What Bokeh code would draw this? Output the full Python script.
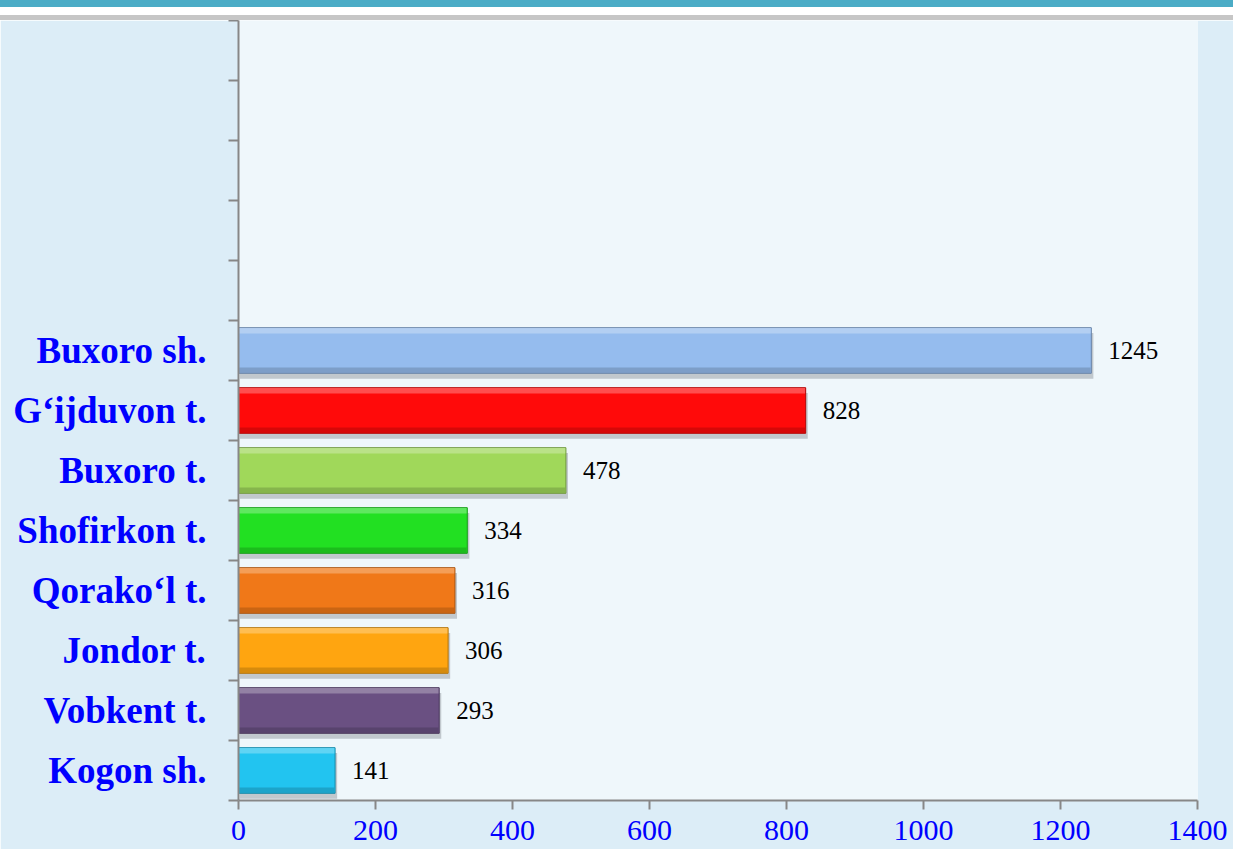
from bokeh.plotting import figure
from bokeh.models import Range1d, FixedTicker, Div
from bokeh.layouts import column
from bokeh.core.properties import value
from bokeh.embed import file_html
from bokeh.resources import INLINE

# ---- data ----
regions = ["Buxoro sh.", "G\u2018ijduvon t.", "Buxoro t.", "Shofirkon t.",
           "Qorako\u2018l t.", "Jondor t.", "Vobkent t.", "Kogon sh."]
values = [1245, 828, 478, 334, 316, 306, 293, 141]
colors = ["#95BCEE", "#FF0A0A", "#A0D85A", "#22E022",
          "#F07818", "#FFA510", "#6A5082", "#22C4F0"]
n_slots = 13
x_ticks = [0, 200, 400, 600, 800, 1000, 1200, 1400]
x_max = 1400


def shade(hexc, f):
    hexc = hexc.lstrip("#")
    r, g, b = (int(hexc[i:i + 2], 16) for i in (0, 2, 4))
    if f >= 0:
        r, g, b = (int(c + (255 - c) * f) for c in (r, g, b))
    else:
        r, g, b = (int(c * (1 + f)) for c in (r, g, b))
    return "#%02x%02x%02x" % (r, g, b)


n = len(regions)
pos = [n - 1 - i + 0.5 for i in range(n)]
bar_h = 0.76

AXIS_COL = "#878787"
FONT = "Liberation Serif"
W = 1233
HEADER_H = 20
H = 849 - HEADER_H

header = Div(text="", width=W, height=HEADER_H, margin=0,
             styles={"background": "linear-gradient(to bottom, #4BACC6 0px, #4BACC6 7px, "
                                   "#ffffff 7px, #ffffff 15px, #c6c6c6 15px, #c6c6c6 20px)"})

p = figure(width=W, height=H, output_backend="svg", toolbar_location=None,
           x_range=Range1d(0, x_max), y_range=Range1d(0, n_slots),
           min_border_left=238, min_border_right=36, min_border_top=0,
           min_border_bottom=49, margin=0)
p.background_fill_color = "#eff7fb"
p.border_fill_color = "#dcedf7"
p.outline_line_color = None
p.grid.visible = False

# shadows
p.hbar(y=[y - 0.09 for y in pos], right=[v + 3 for v in values], left=2,
       height=bar_h, fill_color="#9aa3a8", fill_alpha=0.55, line_color=None)
# bars
p.hbar(y=pos, right=values, left=0, height=bar_h, fill_color=colors,
       line_color=[shade(c, -0.3) for c in colors], line_width=1)
# top highlight
p.hbar(y=[y + bar_h / 2 - 0.05 for y in pos], right=[v - 1 for v in values], left=1,
       height=0.09, fill_color=[shade(c, 0.35) for c in colors], fill_alpha=0.8,
       line_color=None)
# bottom dark edge
p.hbar(y=[y - bar_h / 2 + 0.05 for y in pos], right=[v - 1 for v in values], left=1,
       height=0.09, fill_color=[shade(c, -0.2) for c in colors], fill_alpha=0.8,
       line_color=None)

p.text(x=values, y=pos, text=[str(v) for v in values], x_offset=17,
       text_baseline="middle", text_align="left", text_color="black",
       text_font=value(FONT), text_font_size="25px")

# y axis
ya = p.yaxis[0]
ya.ticker = FixedTicker(ticks=pos, minor_ticks=list(range(n_slots + 1)))
ya.major_label_overrides = {y: r for y, r in zip(pos, regions)}
ya.major_tick_line_color = None
ya.major_tick_out = 0
ya.major_tick_in = 0
ya.minor_tick_out = 10
ya.minor_tick_in = 0
ya.minor_tick_line_color = AXIS_COL
ya.minor_tick_line_width = 2
ya.axis_line_color = AXIS_COL
ya.axis_line_width = 2
ya.major_label_standoff = 22
ya.major_label_text_font = FONT
ya.major_label_text_font_style = "bold"
ya.major_label_text_font_size = "37px"
ya.major_label_text_color = "#0000FF"

# x axis
xa = p.xaxis[0]
xa.ticker = FixedTicker(ticks=x_ticks)
xa.major_tick_out = 9
xa.major_tick_in = 0
xa.minor_tick_line_color = None
xa.major_tick_line_color = AXIS_COL
xa.major_tick_line_width = 2
xa.axis_line_color = AXIS_COL
xa.axis_line_width = 2
xa.major_label_standoff = 11
xa.major_label_text_line_height = 0.85
xa.major_label_text_font = FONT
xa.major_label_text_font_size = "30px"
xa.major_label_text_color = "#0000FF"

layout = column(header, p, spacing=0, margin=0)

open("out.html", "w").write(file_html(layout, INLINE))
